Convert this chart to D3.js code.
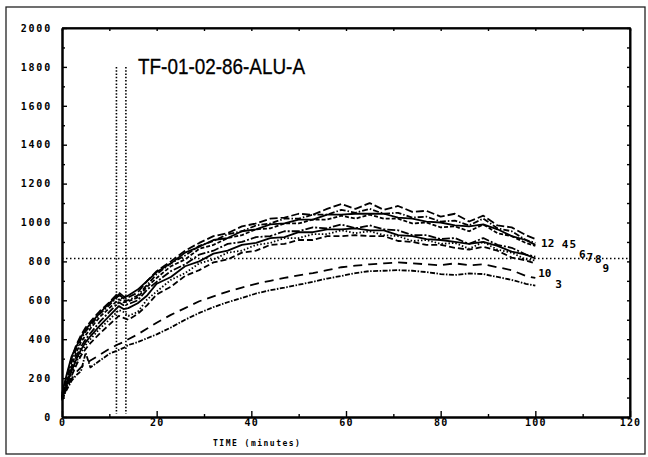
<!DOCTYPE html>
<html>
<head>
<meta charset="utf-8">
<script src="https://cdn.jsdelivr.net/npm/d3@7"></script>
<style>
  body { margin: 0; background: #fff; }
  svg { display: block; }
</style>
</head>
<body>
<div id="chart"></div>
<script>
"use strict";

// chart title and axis text
let chartTitle = "TF-01-02-86-ALU-A";
let xAxisTitle = "TIME (minutes)";

// tick values
let xTicks = [0, 20, 40, 60, 80, 100, 120];
let xMinorTicks = [10, 30, 50, 70, 90, 110];
let yTicks = [0, 200, 400, 600, 800, 1000, 1200, 1400, 1600, 1800, 2000];
let yMinorTicks = [100, 300, 500, 700, 900, 1100, 1300, 1500, 1700, 1900];

// reference lines
let markTimes = [11.5, 13.5];
let markTop = 1800;
let limitTemp = 815;

// sample times (minutes)
let times = [0, 1, 2, 3, 4, 5, 6, 8, 10, 12, 13, 14, 16, 18, 20, 23, 26, 29, 32, 35, 38,
  41, 44, 47, 50, 53, 56, 59, 62, 65, 68, 71, 74, 77, 80, 83, 86, 89, 92, 95, 98, 100];

// thermocouple readings
let tc1 = [110, 210, 300, 370, 420, 460, 490, 545, 590, 640, 620, 615, 640, 700, 750, 800, 855, 895, 930, 945, 980,
  995, 1020, 1025, 1045, 1040, 1070, 1095, 1070, 1100, 1065, 1085, 1055, 1060, 1030, 1045, 1005, 1035, 985, 975, 935, 915];
let tc2 = [100, 190, 280, 350, 400, 440, 470, 530, 575, 625, 600, 600, 625, 680, 735, 790, 830, 880, 905, 940, 955,
  985, 995, 1020, 1020, 1040, 1040, 1065, 1050, 1070, 1045, 1050, 1025, 1030, 1005, 1010, 985, 1020, 970, 955, 910, 895];
let tc4 = [120, 220, 310, 360, 410, 450, 480, 535, 585, 630, 610, 625, 655, 700, 745, 790, 845, 875, 910, 920, 955,
  965, 990, 995, 1015, 1015, 1040, 1040, 1045, 1045, 1045, 1025, 1020, 1005, 1000, 985, 980, 990, 965, 930, 910, 885];
let tc5 = [105, 180, 260, 330, 385, 420, 455, 515, 560, 605, 590, 595, 615, 670, 715, 775, 810, 865, 885, 920, 935,
  965, 970, 995, 995, 1015, 1015, 1035, 1020, 1040, 1020, 1020, 995, 1000, 975, 980, 955, 990, 945, 930, 895, 880];
let tc6 = [95, 175, 250, 310, 360, 400, 430, 490, 540, 590, 575, 580, 600, 655, 695, 750, 785, 835, 855, 890, 900,
  925, 930, 955, 955, 975, 970, 990, 970, 985, 965, 960, 935, 935, 915, 920, 890, 920, 885, 870, 835, 825];
let tc7 = [100, 165, 235, 295, 345, 385, 415, 470, 520, 570, 555, 560, 585, 625, 685, 720, 775, 800, 840, 855, 885,
  895, 920, 925, 950, 950, 965, 965, 970, 960, 960, 935, 930, 915, 910, 900, 890, 900, 880, 850, 835, 815];
let tc8 = [90, 155, 220, 280, 330, 370, 400, 455, 500, 550, 540, 520, 540, 605, 645, 705, 740, 790, 810, 845, 855,
  885, 895, 920, 920, 940, 940, 960, 945, 955, 935, 930, 905, 910, 890, 895, 865, 900, 860, 845, 810, 805];
let tc9 = [85, 150, 210, 265, 315, 350, 380, 430, 475, 520, 510, 500, 530, 575, 630, 670, 725, 755, 795, 810, 845,
  855, 885, 890, 910, 910, 930, 930, 935, 930, 930, 905, 900, 885, 885, 870, 860, 875, 855, 820, 805, 790];
let tc10 = [100, 150, 195, 230, 255, 275, 290, 320, 350, 375, 385, 400, 425, 455, 485, 525, 560, 595, 620, 645, 665,
  685, 700, 715, 728, 740, 755, 770, 778, 785, 790, 795, 790, 785, 780, 790, 780, 785, 770, 755, 725, 715];
let tc3 = [90, 140, 185, 215, 235, 330, 255, 290, 325, 345, 355, 370, 385, 405, 425, 460, 500, 535, 565, 590, 612,
  635, 652, 665, 680, 695, 712, 725, 740, 750, 752, 755, 752, 745, 735, 730, 738, 735, 720, 705, 685, 675];

// end labels
let labelText = ["1", "2", "4", "5", "6", "7", "8", "9", "10", "3"];
let labelTime = [101.2, 102.6, 105.6, 107.2, 109.2, 110.8, 112.6, 114.2, 100.6, 104.2];
let labelTemp = [875, 875, 870, 870, 815, 800, 790, 745, 720, 665];

let series = [tc1, tc2, tc4, tc5, tc6, tc7, tc8, tc9, tc10, tc3];
let dashes = ["8,3", "6,2,1.5,2", null, "4,2", "8,2,2,2", null, "1.5,2", "6,3", "9,6", "5,1.5,1.5,1.5"];

let width = 648,
    height = 457;

let x = d3.scaleLinear().domain([0, 120]).range([62, 630]);
let y = d3.scaleLinear().domain([0, 2000]).range([417, 28]);

let svg = d3.select("#chart").append("svg")
  .attr("width", width)
  .attr("height", height)
  .style("background", "#fff");

// outer page frame
svg.append("rect")
  .attr("x", 6).attr("y", 7)
  .attr("width", 639).attr("height", 447)
  .attr("fill", "none")
  .attr("stroke", "#222")
  .attr("stroke-width", 1.3);

// top and right border
svg.append("path")
  .attr("d", `M${x(0)},${y(2000)}H${x(120)}V${y(0)}`)
  .attr("fill", "none")
  .attr("stroke", "#000")
  .attr("stroke-width", 1.6);

let monoFont = "'DejaVu Sans Mono', monospace";

// bottom axis
let xAxis = svg.append("g")
  .attr("transform", `translate(0,${y(0)})`)
  .call(d3.axisBottom(x).tickValues(xTicks).tickFormat(d3.format("d"))
    .tickSizeInner(-6).tickSizeOuter(0).tickPadding(2));
svg.append("g")
  .attr("transform", `translate(0,${y(0)})`)
  .call(d3.axisBottom(x).tickValues(xMinorTicks).tickSizeInner(-3).tickSizeOuter(0).tickFormat(""));

// left axis
let yAxis = svg.append("g")
  .attr("transform", `translate(${x(0)},0)`)
  .call(d3.axisLeft(y).tickValues(yTicks).tickFormat(d3.format("d"))
    .tickSizeInner(-5).tickSizeOuter(0).tickPadding(10));
svg.append("g")
  .attr("transform", `translate(${x(0)},0)`)
  .call(d3.axisLeft(y).tickValues(yMinorTicks).tickSizeInner(-3).tickSizeOuter(0).tickFormat(""));

// mirror ticks on top and right
svg.append("g")
  .attr("transform", `translate(0,${y(2000)})`)
  .call(d3.axisTop(x).tickValues(xTicks.concat(xMinorTicks)).tickSizeInner(-3).tickSizeOuter(0).tickFormat(""));
svg.append("g")
  .attr("transform", `translate(${x(120)},0)`)
  .call(d3.axisRight(y).tickValues(yTicks.concat(yMinorTicks)).tickSizeInner(-3).tickSizeOuter(0).tickFormat(""));

svg.selectAll(".domain").attr("stroke", "#000").attr("stroke-width", 2);
svg.selectAll(".tick line").attr("stroke", "#000").attr("stroke-width", 1.4);

xAxis.selectAll("text")
  .attr("font-family", monoFont)
  .attr("font-weight", "bold")
  .attr("font-size", 10)
  .attr("letter-spacing", 1.2)
  .attr("fill", "#000");

yAxis.selectAll("text")
  .attr("font-family", monoFont)
  .attr("font-weight", "bold")
  .attr("font-size", 10)
  .attr("letter-spacing", 1.8)
  .attr("fill", "#000");

// axis title
svg.append("text")
  .attr("x", 213)
  .attr("y", 446)
  .attr("font-family", monoFont)
  .attr("font-weight", "bold")
  .attr("font-size", 8)
  .attr("letter-spacing", 1.5)
  .text(xAxisTitle);

// chart title
svg.append("text")
  .attr("x", 138)
  .attr("y", 74)
  .attr("font-family", "'Liberation Sans', Arial, sans-serif")
  .attr("font-size", 22)
  .attr("textLength", 167)
  .attr("lengthAdjust", "spacingAndGlyphs")
  .attr("stroke", "#000")
  .attr("stroke-width", 0.3)
  .text(chartTitle);

// dotted reference lines
markTimes.forEach(function(t) {
  svg.append("line")
    .attr("x1", x(t)).attr("x2", x(t))
    .attr("y1", y(markTop)).attr("y2", y(15))
    .attr("stroke", "#000")
    .attr("stroke-width", 1.6)
    .attr("stroke-dasharray", "1.5,1.8");
});

svg.append("line")
  .attr("x1", x(0)).attr("x2", x(120))
  .attr("y1", y(limitTemp)).attr("y2", y(limitTemp))
  .attr("stroke", "#000")
  .attr("stroke-width", 1.6)
  .attr("stroke-dasharray", "1.5,2.5");

// temperature curves
let line = d3.line()
  .x(function(d, i) { return x(times[i]); })
  .y(function(d) { return y(d); });

svg.append("g").selectAll("path").data(series)
  .enter().append("path")
    .attr("d", line)
    .attr("fill", "none")
    .attr("stroke", "#000")
    .attr("stroke-width", 1.8)
    .attr("stroke-linejoin", "round")
    .attr("stroke-dasharray", function(d, i) { return dashes[i]; });

// curve numbers at the right end
svg.append("g").selectAll("text").data(labelText)
  .enter().append("text")
    .attr("x", function(d, i) { return x(labelTime[i]); })
    .attr("y", function(d, i) { return y(labelTemp[i]); })
    .attr("font-family", monoFont)
    .attr("font-weight", "bold")
    .attr("font-size", 11)
    .attr("fill", "#000")
    .text(function(d) { return d; });
</script>
</body>
</html>
